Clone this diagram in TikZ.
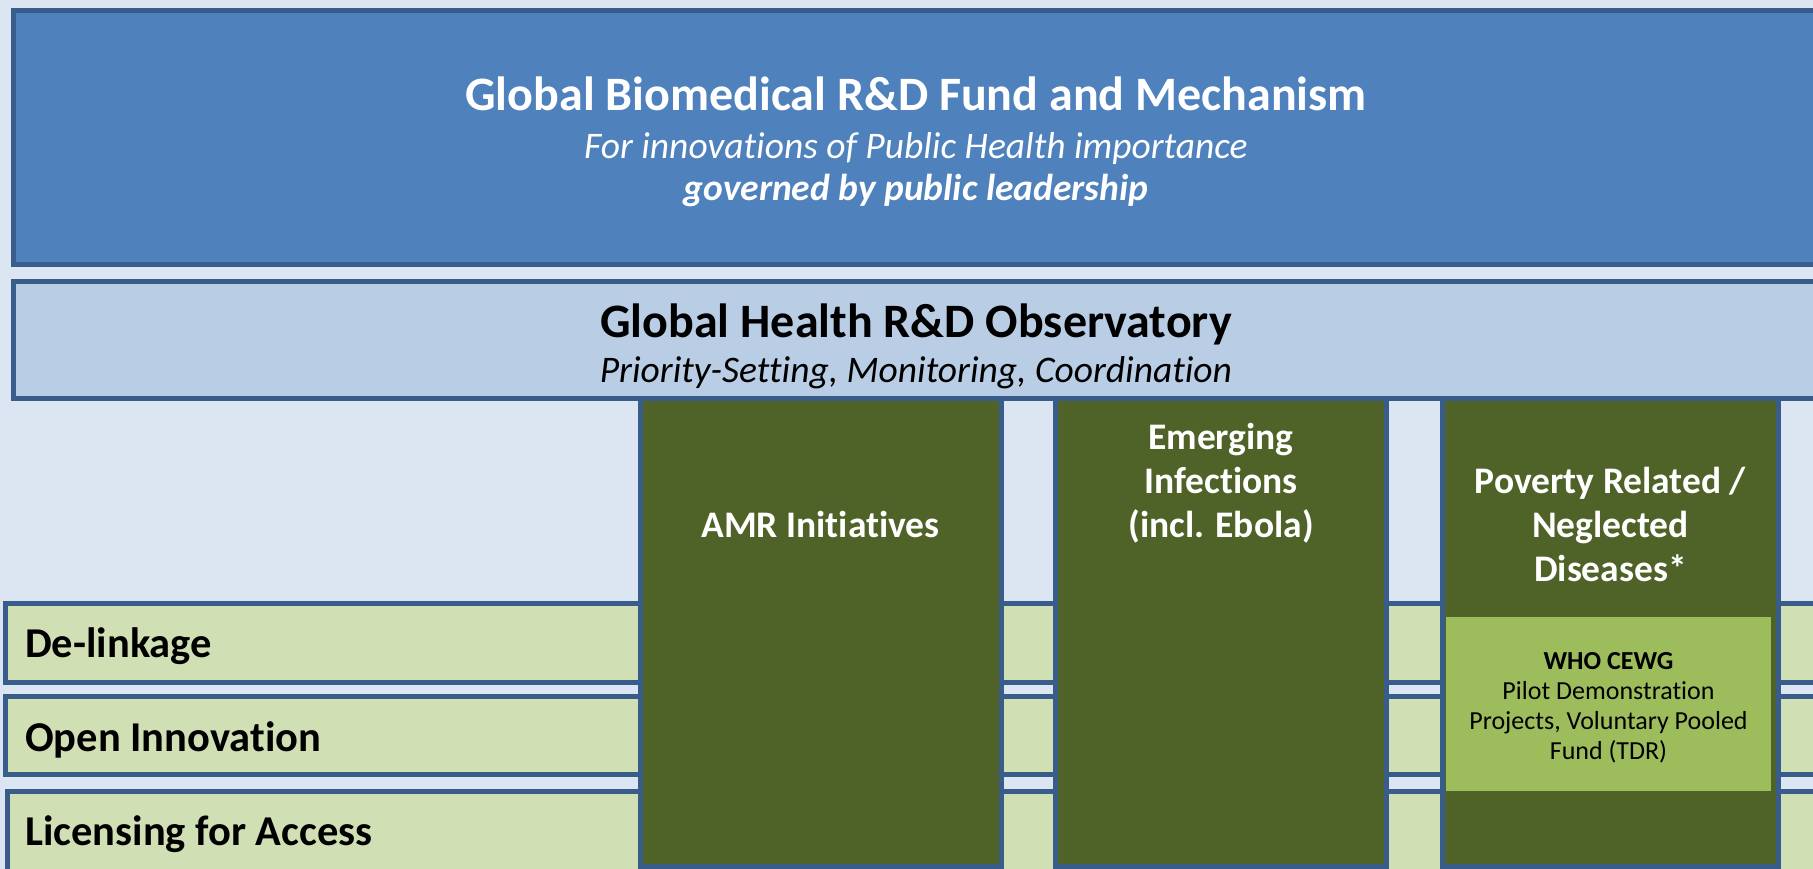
\documentclass[tikz,border=0pt]{standalone}
\usepackage{fontspec}
\setmainfont{Carlito}[Ligatures=NoCommon]
\definecolor{pagebg}{HTML}{DCE6F2}
\definecolor{fundblue}{HTML}{4F81BD}
\definecolor{edgeblue}{HTML}{385D8A}
\definecolor{obsblue}{HTML}{B9CDE5}
\definecolor{rowgreen}{HTML}{D1E0B4}
\definecolor{colgreen}{HTML}{4F6228}
\definecolor{cewggreen}{HTML}{9DBC5C}
\begin{document}
\begin{tikzpicture}[x=1pt,y=1pt,yscale=-1,
  panel/.style={draw=edgeblue, line width=5pt},
  fundtitle/.style={anchor=base, inner sep=0pt, text=white, font=\fontsize{48}{58}\selectfont\bfseries},
  fundsub/.style={anchor=base, inner sep=0pt, text=white, font=\fontsize{37.5}{44}\selectfont\itshape},
  fundgov/.style={anchor=base, inner sep=0pt, text=white, font=\fontsize{37.5}{44}\selectfont\bfseries\itshape},
  obstitle/.style={anchor=base, inner sep=0pt, font=\fontsize{48}{58}\selectfont\bfseries},
  obssub/.style={anchor=base, inner sep=0pt, font=\fontsize{37.5}{44}\selectfont\itshape},
  coltext/.style={anchor=base, inner sep=0pt, align=center, text=white, font=\fontsize{37.5}{44}\selectfont\bfseries},
  rowtext/.style={anchor=base west, inner sep=0pt, font=\fontsize{42.5}{50}\selectfont\bfseries},
  cewgtext/.style={anchor=base, inner sep=0pt, align=center, font=\fontsize{26}{30}\selectfont}]

\fill [pagebg] (0,0) rectangle (1813,869);
\useasboundingbox (0,0) rectangle (1813,869);
\clip (0,0) rectangle (1813,869);

\draw [panel, fill=rowgreen] (5.5,603.5) rectangle (1830,682.5);
\draw [panel, fill=rowgreen] (5.5,696.5) rectangle (1830,774.5);
\draw [panel, fill=rowgreen] (7.5,791.5) rectangle (1830,900);

\draw [panel, fill=colgreen] (640,398.5) rectangle (1001.5,866.5);
\draw [panel, fill=colgreen] (1055.5,398.5) rectangle (1386.5,866.5);
\draw [panel, fill=colgreen] (1442.5,398.5) rectangle (1778.5,866.5);
\fill [cewggreen] (1446,617) rectangle (1771,791);

\draw [panel, fill=fundblue] (13.5,10.5) rectangle (1830,264.5);
\draw [panel, fill=obsblue] (13.5,281.5) rectangle (1830,398.5);

\node (fund) at (916,110.5) [fundtitle] {Global Biomedical R\&D Fund and Mechanism};
\node (fundaim) at (916,158.5) [fundsub] {For innovations of Public Health importance};
\node (fundgov) at (916,200.5) [fundgov] {governed by public leadership};

\node (obs) at (916,337) [obstitle] {Global Health R\&D Observatory};
\node (obsaim) at (916,382.5) [obssub] {Priority-Setting, Monitoring, Coordination};

\node (amr) at (820.5,537) [coltext] {AMR Initiatives};
\node (emerging) at (1221,537) [coltext] {Emerging\\Infections\\(incl. Ebola)};
\node (poverty) at (1610.5,581) [coltext] {Poverty Related /\\Neglected\\Diseases*};
\node (cewg) at (1608.5,759) [cewgtext] {\textbf{WHO CEWG}\\Pilot Demonstration\\Projects, Voluntary Pooled\\Fund (TDR)};

\node (delink) at (25,657) [rowtext] {De-linkage};
\node (openinno) at (25,751) [rowtext] {Open Innovation};
\node (licensing) at (25,845) [rowtext] {Licensing for Access};
\end{tikzpicture}
\end{document}
